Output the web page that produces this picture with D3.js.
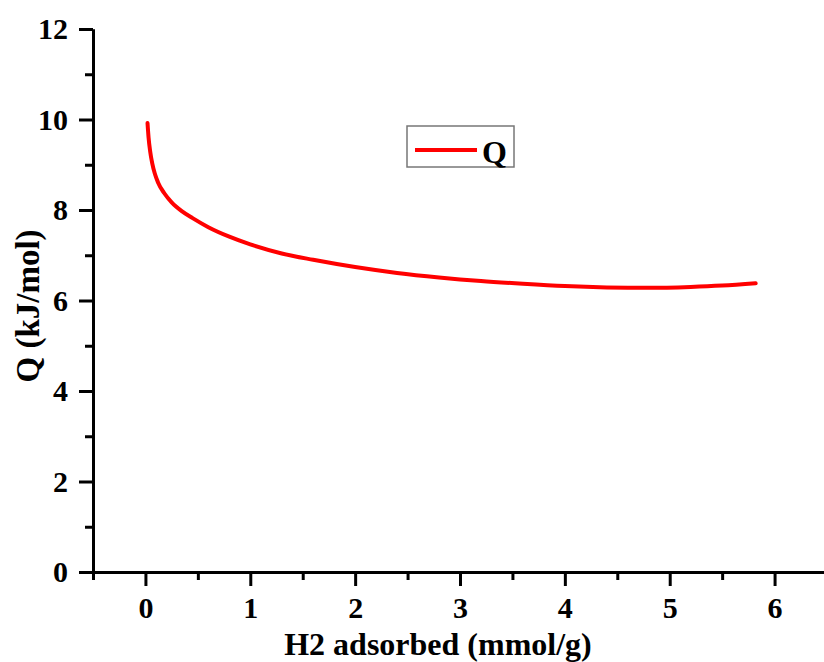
<!DOCTYPE html>
<html>
<head>
<meta charset="utf-8">
<script src="https://cdn.jsdelivr.net/npm/d3@7"></script>
<style>
  body { margin: 0; background: #fff; }
  svg { display: block; }
  text { font-family: "Liberation Serif", "Times New Roman", serif; font-weight: bold; }
</style>
</head>
<body>
<svg id="chart"></svg>
<script>
// H2 adsorbed (mmol/g)
const adsorbed = [0.02, 0.03, 0.045, 0.065, 0.09, 0.12, 0.18, 0.25, 0.35, 0.45, 0.6, 0.8, 1.0,
                  1.3, 1.6, 2.0, 2.4, 2.8, 3.2, 3.6, 4.0, 4.4, 4.8, 5.2, 5.5, 5.82];
// isosteric heat Q (kJ/mol)
const heat = [9.92, 9.60, 9.30, 9.03, 8.80, 8.61, 8.37, 8.17, 7.97, 7.82, 7.62, 7.41, 7.24,
              7.04, 6.90, 6.74, 6.61, 6.51, 6.43, 6.37, 6.32, 6.29, 6.28, 6.30, 6.33, 6.38];
const xTicks = [0, 1, 2, 3, 4, 5, 6];
const xMinor = [-0.5, 0.5, 1.5, 2.5, 3.5, 4.5, 5.5, 6.5];
const yTicks = [0, 2, 4, 6, 8, 10, 12];
const yMinor = [1, 3, 5, 7, 9, 11];
const seriesName = 'Q';

const width = 824, height = 662;
const margin = {top: 29, right: -3, bottom: 90, left: 93};

const svg = d3.select('#chart')
    .attr('width', width)
    .attr('height', height);

const inner_width = width - margin.left - margin.right;
const inner_height = height - margin.top - margin.bottom;

const chart = svg.append('g')
    .attr('transform', `translate(${margin.left}, ${margin.top})`);

const xscale = d3.scaleLinear().domain([-0.5, 6.5]).range([0, inner_width]);
const yscale = d3.scaleLinear().domain([0, 12]).range([inner_height, 0]);

function styleAxis(g) {
    g.select('.domain').attr('stroke', '#000').attr('stroke-width', 3);
    g.selectAll('.tick line').attr('stroke', '#000').attr('stroke-width', 3);
    g.selectAll('.tick text')
        .attr('fill', '#000')
        .style('font-size', '30px')
        .style('font-family', '"Liberation Serif", serif')
        .style('font-weight', 'bold');
}

// minor ticks
chart.append('g')
    .attr('transform', `translate(0, ${inner_height})`)
    .call(d3.axisBottom(xscale).tickValues(xMinor).tickSize(8).tickSizeOuter(0).tickFormat(''))
    .call(styleAxis);
chart.append('g')
    .call(d3.axisLeft(yscale).tickValues(yMinor).tickSize(8).tickSizeOuter(0).tickFormat(''))
    .call(styleAxis);

// major ticks
const xaxis_group = chart.append('g')
    .attr('transform', `translate(0, ${inner_height})`)
    .call(d3.axisBottom(xscale).tickValues(xTicks).tickSize(14).tickSizeOuter(0).tickPadding(11).tickFormat(d3.format('d')))
    .call(styleAxis);

const yaxis_group = chart.append('g')
    .call(d3.axisLeft(yscale).tickValues(yTicks).tickSize(14).tickSizeOuter(0).tickPadding(11).tickFormat(d3.format('d')))
    .call(styleAxis);

// curve
const points = adsorbed.map((x, i) => ({x: x, y: heat[i]}));
const line = d3.line()
    .x(d => xscale(d.x))
    .y(d => yscale(d.y))
    .curve(d3.curveMonotoneX);

chart.append('path')
    .datum(points)
    .attr('d', line)
    .attr('fill', 'none')
    .attr('stroke', '#ff0000')
    .attr('stroke-width', 4)
    .attr('stroke-linecap', 'round');

// axis titles
svg.append('text')
    .attr('x', 438)
    .attr('y', 655)
    .attr('text-anchor', 'middle')
    .style('font-size', '32px')
    .text('H2 adsorbed (mmol/g)');

svg.append('text')
    .attr('transform', `translate(39, 306) rotate(-90)`)
    .attr('text-anchor', 'middle')
    .style('font-size', '33px')
    .text('Q (kJ/mol)');

// legend
const legend = svg.append('g');
legend.append('rect')
    .attr('x', 407).attr('y', 126)
    .attr('width', 107).attr('height', 41)
    .attr('fill', 'none')
    .attr('stroke', '#777')
    .attr('stroke-width', 1.5);
legend.append('line')
    .attr('x1', 415).attr('x2', 477)
    .attr('y1', 150).attr('y2', 150)
    .attr('stroke', '#ff0000')
    .attr('stroke-width', 4);
legend.append('text')
    .attr('x', 482).attr('y', 163)
    .style('font-size', '32px')
    .text(seriesName);
</script>
</body>
</html>
